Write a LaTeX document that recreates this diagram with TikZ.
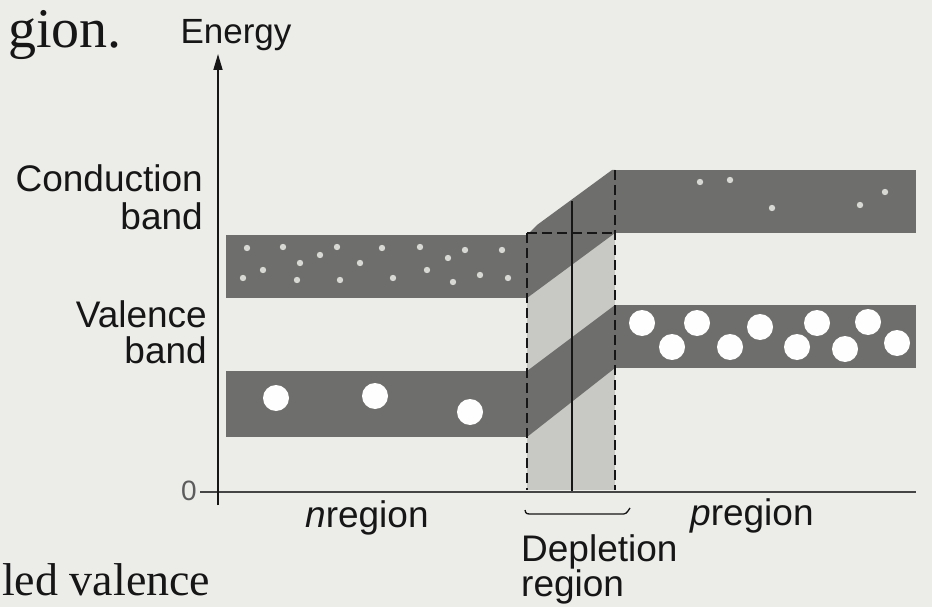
\documentclass[tikz,border=0pt]{standalone}
\usepackage{fontspec}
\setmainfont{Liberation Sans}
\newfontfamily\bookserif{Liberation Serif}
\usetikzlibrary{arrows.meta}
\definecolor{paper}{RGB}{236,236,233}
\definecolor{bandgray}{RGB}{110,110,108}
\definecolor{deplgray}{RGB}{200,200,197}
\definecolor{ink}{RGB}{22,22,22}
\definecolor{spec}{RGB}{215,215,212}
\tikzset{
  band/.style={fill=bandgray},
  hole/.style={fill=white!96!paper},
  spot/.style={fill=spec},
  lbl/.style={text=ink, inner sep=0pt, font=\fontsize{37}{40}\selectfont},
  dashline/.style={draw=ink, line width=1.8pt, dash pattern=on 10pt off 5pt},
}
\begin{document}
\begin{tikzpicture}[x=1pt,y=-1pt]
\useasboundingbox (0,0) rectangle (932,607);
\fill[paper] (0,0) rectangle (932,607);
% fragments of the page text
\node[anchor=base west, inner sep=0pt, text=ink, font=\bookserif\fontsize{56}{56}\selectfont] (pagetop) at (8,48) {gion.};
\node[anchor=base west, inner sep=0pt, text=ink, font=\bookserif\fontsize{46}{46}\selectfont] (pagebot) at (2,595) {led valence};

% depletion region light fill
\fill[deplgray] (527,233) rectangle (615,490);

% n-region bands
\fill[band] (226,235) rectangle (527,298);
\fill[band] (226,371) rectangle (527,437);
% sloped bands in depletion region
\fill[band] (527,235) -- (537,225) -- (612,170) -- (615,170) -- (615,233) -- (527,298) -- cycle;
\fill[band] (527,371) -- (615,305) -- (615,368) -- (527,437) -- cycle;
% p-region bands
\fill[band] (615,170) rectangle (916,233);
\fill[band] (615,305) rectangle (916,368);

% small electrons in conduction bands
\foreach \p in {(247,248),(263,270),(243,278),(283,247),(300,263),(297,280),(337,247),(340,280),(360,263),(382,248),(393,278),(420,247),(427,270),(448,258),(453,282),(480,275),(502,250),(508,278),(320,255),(465,250)}
  \fill[spot] \p circle (3.2);
\foreach \p in {(700,182),(772,208),(885,192),(730,180),(860,205)}
  \fill[spot] \p circle (3.2);

% holes in valence bands
\foreach \p in {(276,398),(375,396),(470,412)}
  \fill[hole] \p circle (13);
\foreach \p in {(642,323),(697,323),(760,327),(817,323),(868,322),(672,347),(730,347),(797,347),(845,349),(897,343)}
  \fill[hole] \p circle (13);

% depletion boundaries
\draw[dashline] (527,233) -- (527,490);
\draw[dashline] (615,170) -- (615,490);
\draw[dashline] (527,233) -- (615,233);
\coordinate (junctop) at (572,201);
\coordinate (junbot) at (572,492);
\draw[ink, line width=2pt] (junctop) -- (junbot);

% axes
\coordinate (ax0) at (218,505);
\coordinate (axtop) at (218,54);
\coordinate (hx0) at (200,492);
\coordinate (hx1) at (916,492);
\draw[ink!80, line width=1.4pt] (hx0) -- (hx1);
\draw[ink, line width=1.6pt, -{Triangle[length=16pt,width=9pt]}] (ax0) -- (axtop);

% labels
\node[lbl, anchor=base, font=\fontsize{35}{36}\selectfont] (energy) at (236,44) {Energy};
\node[lbl, anchor=base east] (cond1) at (203,192) {Conduction};
\node[lbl, anchor=base east] (cond2) at (203,229) {band};
\node[lbl, anchor=base east] (val1) at (207,327) {Valence};
\node[lbl, anchor=base east] (val2) at (207,363) {band};
\node[lbl, anchor=east, text=ink!70, font=\fontsize{28}{28}\selectfont] (zero) at (197,491) {0};
\node[lbl, anchor=base west] (nreg) at (305,527) {\textit{n}region};
\node[lbl, anchor=base west] (preg) at (690,525) {\textit{p}region};
\node[lbl, anchor=base west] (dep1) at (521,561) {Depletion};
\node[lbl, anchor=base west] (dep2) at (521,596) {region};

% brace under depletion region
\coordinate (br0) at (525,510);
\coordinate (br1) at (630,508);
\draw[ink, line width=1.3pt] (br0) .. controls (526,514) .. (533,514) -- (621,514) .. controls (626,514) .. (br1);
\end{tikzpicture}
\end{document}
